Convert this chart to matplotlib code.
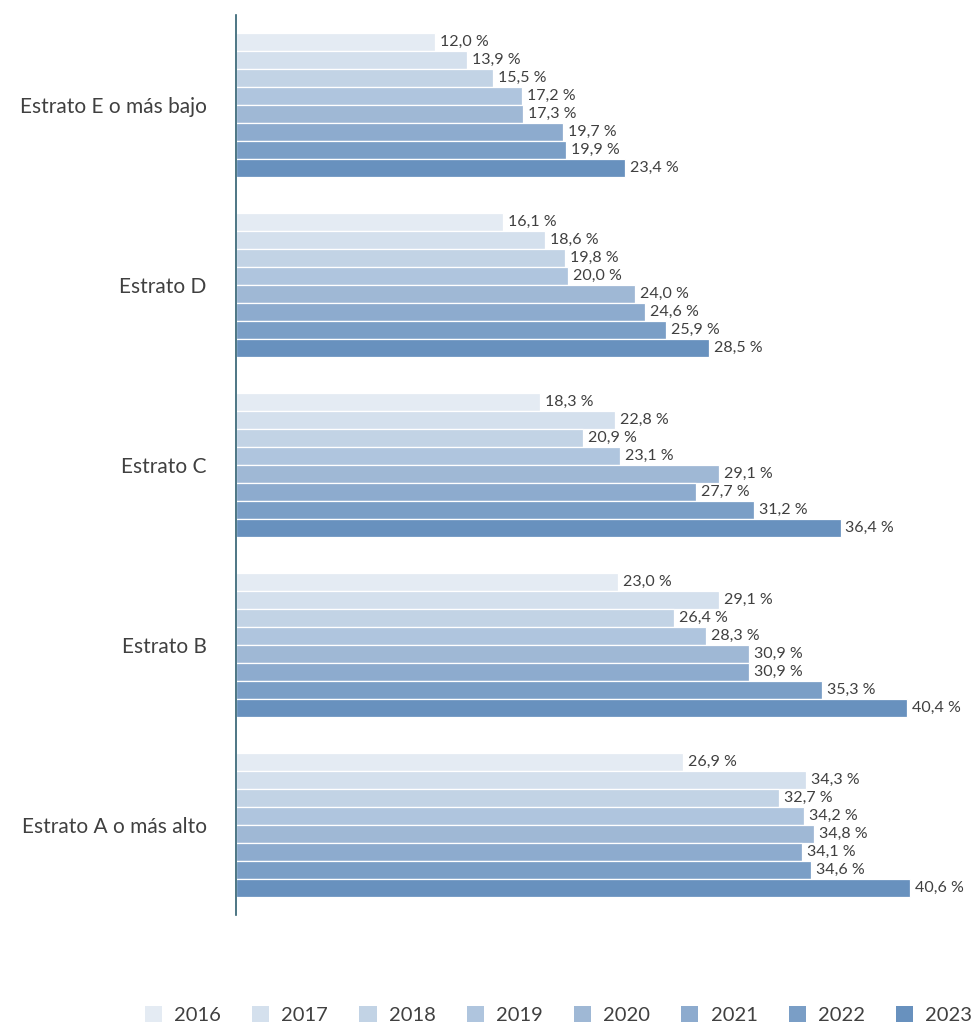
import matplotlib.pyplot as plt
from matplotlib.patches import Patch
import numpy as np

plt.rcParams['font.family'] = ['Lato', 'DejaVu Sans']

estratos = ["Estrato E o más bajo", "Estrato D", "Estrato C",
            "Estrato B", "Estrato A o más alto"]
years = ["2016", "2017", "2018", "2019", "2020", "2021", "2022", "2023"]

# one list per estrato, values by year
e_vals = [12.0, 13.9, 15.5, 17.2, 17.3, 19.7, 19.9, 23.4]
d_vals = [16.1, 18.6, 19.8, 20.0, 24.0, 24.6, 25.9, 28.5]
c_vals = [18.3, 22.8, 20.9, 23.1, 29.1, 27.7, 31.2, 36.4]
b_vals = [23.0, 29.1, 26.4, 28.3, 30.9, 30.9, 35.3, 40.4]
a_vals = [26.9, 34.3, 32.7, 34.2, 34.8, 34.1, 34.6, 40.6]

colors = ["#e4ebf3", "#d4e0ed", "#c2d3e5", "#afc5de",
          "#9fb8d5", "#8dabce", "#7a9ec6", "#6891be"]

data = np.array([e_vals, d_vals, c_vals, b_vals, a_vals])

fig = plt.figure(figsize=(9.8, 10.24), dpi=100)
ax = fig.add_axes([236/980, 1 - 915/1024, 1 - 236/980, 900/1024])

bh = 0.1
y = np.arange(len(estratos))
for j, yr in enumerate(years):
    pos = y - 0.4 + bh*(j + 0.5)
    bars = ax.barh(pos, data[:, j], height=bh, color=colors[j],
                   edgecolor="white", linewidth=0.9)
    for b, v in zip(bars, data[:, j]):
        ax.text(b.get_width() + 0.3, b.get_y() + b.get_height()/2,
                f"{v:.1f} %".replace(".", ","), va="center", ha="left",
                fontsize=11.5, color="#404040")

ax.set_xlim(0, 44.8)
ax.set_ylim(len(estratos) - 0.5, -0.5)
ax.set_yticks(y)
ax.set_yticklabels(estratos, fontsize=15, color="#404040")
ax.tick_params(axis="y", length=0, pad=21)
ax.set_xticks([])
for s in ["top", "right", "bottom"]:
    ax.spines[s].set_visible(False)
ax.spines["left"].set_color("#2f5f6f")
ax.spines["left"].set_linewidth(1.2)

handles = [Patch(facecolor=c, edgecolor="none") for c in colors]
fig.legend(handles, years, loc="lower center", ncol=8, frameon=False,
           bbox_to_anchor=(0.57, -0.018), fontsize=14.5, handlelength=0.85,
           handleheight=0.85, columnspacing=1.55, handletextpad=0.6,
           labelcolor="#404040")

fig.savefig("out.png", dpi=100)
